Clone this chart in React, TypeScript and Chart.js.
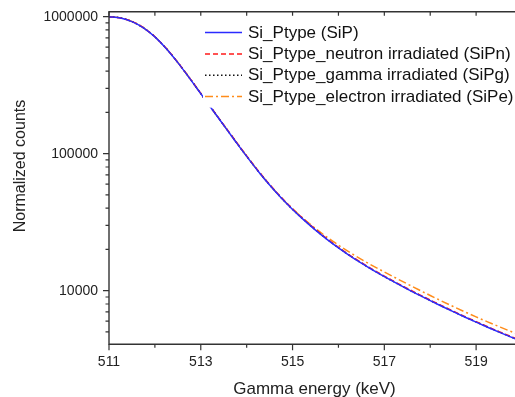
import React, { useEffect, useRef } from "react";
import { Chart, registerables } from "chart.js";

Chart.register(...registerables);

const energies = [
  511, 511.25, 511.5, 511.75, 512, 512.25, 512.5, 512.75, 513, 513.25, 513.5, 513.75,
  514, 514.25, 514.5, 514.75, 515, 515.25, 515.5, 515.75, 516, 516.25, 516.5, 516.75,
  517, 517.25, 517.5, 517.75, 518, 518.25, 518.5, 518.75, 519, 519.25, 519.5, 519.75, 520,
];

const siP = [
  1000000, 980100, 921300, 829500, 712000, 583800, 462300, 357800, 274200, 210100, 161200, 123900,
  95600, 74540, 59040, 47640, 39180, 32730, 27700, 23710, 20530, 17970, 15880, 14130,
  12660, 11390, 10280, 9318, 8464, 7703, 7029, 6428, 5893, 5413, 4985, 4602, 4257,
];

const siPn = [
  1000000, 979000, 922500, 831000, 713500, 585000, 463500, 359000, 275500, 211200, 162300, 124800,
  96400, 75200, 59600, 48100, 39550, 33050, 27950, 23930, 20720, 18140, 16030, 14260,
  12780, 11500, 10380, 9410, 8545, 7775, 7095, 6490, 5950, 5465, 5030, 4645, 4297,
];

const siPg = [
  1000000, 980500, 922000, 830500, 713000, 584500, 463000, 358500, 274800, 210600, 161600, 124200,
  95900, 74750, 59220, 47790, 39300, 32830, 27790, 23790, 20600, 18030, 15930, 14170,
  12700, 11420, 10310, 9345, 8490, 7725, 7050, 6447, 5910, 5430, 5000, 4615, 4270,
];

const siPe = [
  1000000, 981000, 923000, 831000, 714000, 585500, 463800, 359000, 275000, 210700, 161700, 124300,
  95900, 74800, 59300, 47880, 39570, 33320, 28450, 24590, 21520, 19010, 16940, 15190,
  13700, 12380, 11210, 10160, 9230, 8400, 7670, 7015, 6440, 5925, 5470, 5055, 4683,
];

const seriesLabels = [
  "Si_Ptype (SiP)",
  "Si_Ptype_neutron irradiated (SiPn)",
  "Si_Ptype_gamma irradiated (SiPg)",
  "Si_Ptype_electron irradiated (SiPe)",
];
const seriesColors = ["#2b2bff", "#ff1a1a", "#111111", "#ff8c1a"];
const seriesDashes: number[][] = [[], [5, 3], [1.5, 2.5], [8, 3, 2, 3]];

const xTickValues = [511, 512, 513, 514, 515, 516, 517, 518, 519, 520];
const yTickValues = [10000, 100000, 1000000];

const xTitle = "Gamma energy (keV)";
const yTitle = "Normalized counts";

const X_MIN = 511;
const X_MAX = 520;
const Y_MIN = 4063;
const Y_MAX = 1087600;

const FONT = "'Liberation Sans', Arial, sans-serif";

const framePlugin = {
  id: "framePlugin",
  afterDraw(chart: any) {
    const { ctx, chartArea } = chart;
    const { left, right, top, bottom } = chartArea;
    const xs = chart.scales.x;
    const ys = chart.scales.y;
    ctx.save();

    // legend (inside plot, white background)
    const lgLeft = left + 94;
    const lgTop = top + 9;
    const lgBottom = top + 96;
    ctx.fillStyle = "#ffffff";
    ctx.fillRect(lgLeft, lgTop, right - lgLeft, lgBottom - lgTop);
    const rowY = [top + 20.8, top + 42.3, top + 63.6, top + 84.8];
    ctx.font = `17px ${FONT}`;
    ctx.textBaseline = "middle";
    ctx.textAlign = "left";
    for (let i = 0; i < seriesLabels.length; i++) {
      ctx.beginPath();
      ctx.strokeStyle = seriesColors[i];
      ctx.lineWidth = 1.5;
      ctx.setLineDash(seriesDashes[i]);
      ctx.moveTo(lgLeft + 2, rowY[i]);
      ctx.lineTo(lgLeft + 39, rowY[i]);
      ctx.stroke();
      ctx.setLineDash([]);
      ctx.fillStyle = "#111111";
      ctx.fillText(seriesLabels[i], lgLeft + 45, rowY[i] + 0.5);
    }

    // frame
    ctx.strokeStyle = "#333333";
    ctx.lineWidth = 1.4;
    ctx.beginPath();
    ctx.moveTo(left, top);
    ctx.lineTo(right, top);
    ctx.lineTo(right, bottom);
    ctx.lineTo(left, bottom);
    ctx.closePath();
    ctx.stroke();

    ctx.lineWidth = 1.2;
    ctx.beginPath();
    for (const v of xTickValues) {
      const px = xs.getPixelForValue(v);
      const major = v % 2 === 1;
      ctx.moveTo(px, bottom);
      ctx.lineTo(px, bottom + (major ? 6 : 3.5));
      ctx.moveTo(px, top);
      ctx.lineTo(px, top + 4);
    }
    for (let d = 3; d <= 6; d++) {
      for (let m = 1; m <= 9; m++) {
        const v = m * Math.pow(10, d);
        if (v < Y_MIN || v > Y_MAX) continue;
        const py = ys.getPixelForValue(v);
        const major = m === 1;
        ctx.moveTo(left, py);
        ctx.lineTo(left - (major ? 6 : 3.5), py);
        ctx.moveTo(right, py);
        ctx.lineTo(right - (major ? 7 : 4), py);
      }
    }
    ctx.stroke();

    // axis titles
    ctx.fillStyle = "#222222";
    ctx.textBaseline = "alphabetic";
    ctx.textAlign = "center";
    ctx.font = `17px ${FONT}`;
    ctx.fillText(xTitle, left + 205.5, bottom + 49.7);
    ctx.font = `16px ${FONT}`;
    ctx.translate(left - 84.5, top + 154.3);
    ctx.rotate(-Math.PI / 2);
    ctx.fillText(yTitle, 0, 0);
    ctx.restore();
  },
};

export default function App() {
  const canvasRef = useRef<HTMLCanvasElement | null>(null);

  useEffect(() => {
    if (!canvasRef.current) return;
    const datasets = [siP, siPn, siPg, siPe].map((vals, i) => ({
      label: seriesLabels[i],
      data: energies.map((e, j) => ({ x: e, y: vals[j] })),
      borderColor: seriesColors[i],
      borderWidth: 1.5,
      borderDash: seriesDashes[i],
      pointRadius: 0,
      fill: false,
      cubicInterpolationMode: "monotone" as const,
    }));
    const chart = new Chart(canvasRef.current, {
      type: "line",
      data: { datasets },
      options: {
        animation: false,
        responsive: false,
        devicePixelRatio: 1,
        layout: { padding: { left: 0, top: 11.7, right: 8, bottom: 0 } },
        plugins: { legend: { display: false }, tooltip: { enabled: false } },
        scales: {
          x: {
            type: "linear",
            min: X_MIN,
            max: X_MAX,
            afterBuildTicks: (s: any) => {
              s.ticks = xTickValues.map((v) => ({ value: v }));
            },
            afterFit: (s: any) => {
              s.height = 52.7;
              s.paddingLeft = 0;
              s.paddingRight = 0;
            },
            grid: { display: false, drawTicks: false },
            border: { display: false },
            ticks: {
              autoSkip: false,
              maxRotation: 0,
              padding: 9,
              color: "#222222",
              font: { size: 14, family: FONT },
              callback: (v: any) => (Number(v) % 2 === 1 ? String(v) : ""),
            },
          },
          y: {
            type: "logarithmic",
            min: Y_MIN,
            max: Y_MAX,
            afterBuildTicks: (s: any) => {
              s.ticks = yTickValues.map((v) => ({ value: v }));
            },
            afterFit: (s: any) => {
              s.width = 109;
              s.paddingTop = 0;
              s.paddingBottom = 0;
            },
            grid: { display: false, drawTicks: false },
            border: { display: false },
            ticks: {
              autoSkip: false,
              padding: 11,
              color: "#222222",
              font: { size: 14, family: FONT },
              callback: (v: any) => String(v),
            },
          },
        },
      },
      plugins: [framePlugin],
    });
    return () => chart.destroy();
  }, []);

  return (
    <div
      style={{
        position: "fixed",
        left: 0,
        top: 0,
        width: 515,
        height: 397,
        overflow: "hidden",
        background: "#ffffff",
      }}
    >
      <canvas ref={canvasRef} width={530} height={397} style={{ display: "block" }} />
    </div>
  );
}
